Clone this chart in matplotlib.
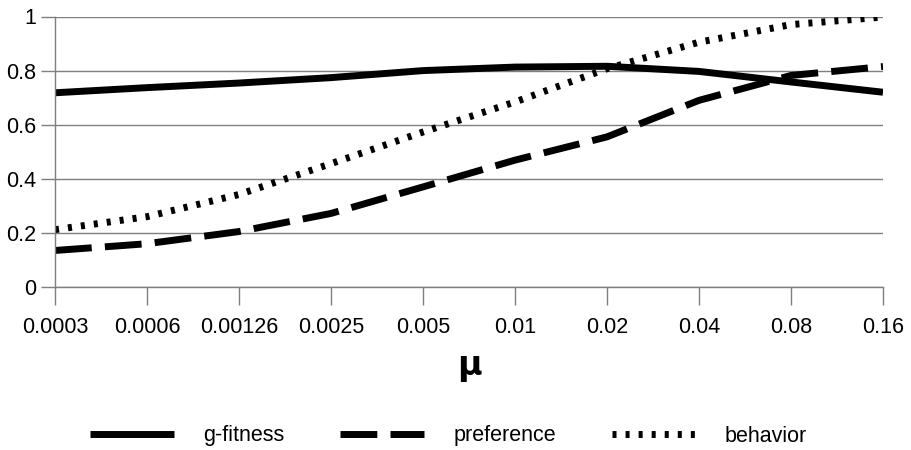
import numpy as np
import matplotlib.pyplot as plt

# mutation rate categories (x axis is categorical, evenly spaced)
mu_labels = ["0.0003", "0.0006", "0.00126", "0.0025", "0.005",
             "0.01", "0.02", "0.04", "0.08", "0.16"]

g_fitness = [0.718, 0.737, 0.754, 0.774, 0.800, 0.813, 0.816, 0.797, 0.758, 0.720]
preference = [0.135, 0.160, 0.205, 0.272, 0.370, 0.469, 0.555, 0.690, 0.782, 0.815]
behavior = [0.212, 0.260, 0.342, 0.456, 0.573, 0.684, 0.807, 0.905, 0.970, 0.998]

plt.rcParams['font.family'] = ['Liberation Sans', 'DejaVu Sans']

fig = plt.figure(figsize=(9.11, 4.5), dpi=100)
ax = fig.add_axes([55/911, 1-287/450, (883-55)/911, (287-16.5)/450])

xx = np.arange(len(mu_labels))
lw = 5
ax.plot(xx, g_fitness, color='black', lw=lw, solid_capstyle='butt', label='g-fitness')
ax.plot(xx, preference, color='black', lw=lw, linestyle=(0, (5.3, 1.9)),
        dash_capstyle='butt', label='preference')
ax.plot(xx, behavior, color='black', lw=lw, linestyle=(0, (0.58, 1.3)),
        dash_capstyle='butt', label='behavior')

ax.set_xlim(0, len(mu_labels)-1)
ax.set_ylim(0, 1)
ax.set_xticks(xx)
ax.set_xticklabels(mu_labels)
ax.set_yticks([0, 0.2, 0.4, 0.6, 0.8, 1])
ax.set_yticklabels(["0", "0.2", "0.4", "0.6", "0.8", "1"])

gcol = '#7f7f7f'
ax.yaxis.grid(True, color=gcol, lw=1)
ax.set_axisbelow(True)
for s in ['top', 'right']:
    ax.spines[s].set_visible(False)
for s in ['left', 'bottom']:
    ax.spines[s].set_color(gcol)
    ax.spines[s].set_linewidth(1)

fs = 15.5
ax.tick_params(axis='x', length=13, width=1, color=gcol, pad=8.5, labelsize=fs)
ax.tick_params(axis='y', length=10, width=1, color=gcol, pad=3.5, labelsize=fs)

fig.text(469/911, 1-375/450, "μ", ha='center', va='baseline',
         fontsize=24, fontweight='bold', family='DejaVu Sans')

fig.legend(loc='center', bbox_to_anchor=(448.5/911, 1-436/450), ncol=3,
           frameon=False, fontsize=fs, handlelength=3.9, handletextpad=1.35,
           columnspacing=2.6)

fig.savefig("out.png", dpi=100)
